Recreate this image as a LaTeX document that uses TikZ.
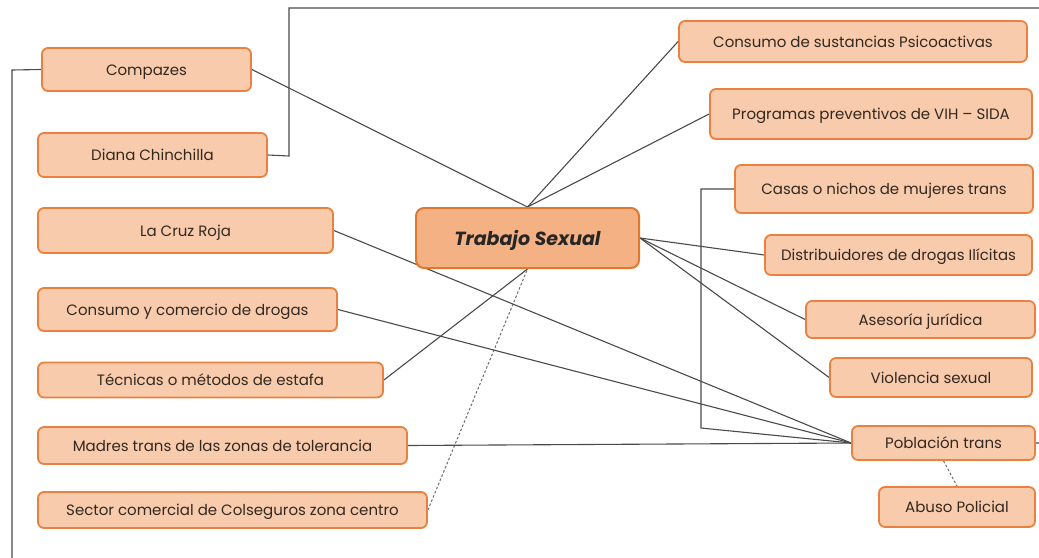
\documentclass[tikz,border=0pt]{standalone}
\usepackage{fontspec}
\setmainfont{Poppins}
\usetikzlibrary{backgrounds}
\begin{document}
\begin{tikzpicture}[x=1pt,y=-1pt,
  box/.style={draw=boxline, fill=boxfill, line width=1.8pt, rounded corners=6pt,
    inner sep=0pt, text height=11pt, text depth=0pt, text=txt, font=\fontsize{15}{17}\selectfont},
  hub/.style={draw=hubline, fill=hubfill, line width=2pt, rounded corners=8pt,
    inner sep=0pt, text height=14pt, text depth=0pt, text=black!85, font=\fontsize{19}{22}\selectfont\bfseries\itshape},
  link/.style={draw=conn, line width=1.1pt},
  dlink/.style={draw=conn!80, line width=1pt, dash pattern=on 2.5pt off 2pt}]
\definecolor{boxfill}{HTML}{F8CBAD}
\definecolor{boxline}{HTML}{E8823E}
\definecolor{hubfill}{HTML}{F4B183}
\definecolor{hubline}{HTML}{E0782F}
\definecolor{txt}{HTML}{33281F}
\definecolor{conn}{HTML}{4A4A4A}
\useasboundingbox (0,0) rectangle (1039,557);
\clip (0,0) rectangle (1039,557);

\coordinate (dknee) at (289,156);
\coordinate (dtop) at (289,8);
\coordinate (rtop) at (1060,8);
\coordinate (rpob) at (1060,443);
\coordinate (cknee) at (12,70);
\coordinate (cbot) at (12,580);
\coordinate (casknee) at (701,189);
\coordinate (casbot) at (701,428);

% nodes
\node[box, minimum width=209pt, minimum height=43pt] (comp) at (146.5,69.5) {Compazes};
\node[box, minimum width=229pt, minimum height=44pt] (diana) at (152.5,155) {Diana Chinchilla};
\node[box, minimum width=295pt, minimum height=45pt] (cruz) at (185.5,230.5) {La Cruz Roja};
\node[box, minimum width=299pt, minimum height=43pt] (ccd) at (187.5,309.5) {Consumo y comercio de drogas};
\node[box, minimum width=345pt, minimum height=35pt] (tec) at (210.5,380) {Técnicas o métodos de estafa};
\node[box, minimum width=369pt, minimum height=37pt] (madres) at (222.5,445.5) {Madres trans de las zonas de tolerancia};
\node[box, minimum width=389pt, minimum height=36pt] (sector) at (232.5,510) {Sector comercial de Colseguros zona centro};
\node[hub, minimum width=223pt, minimum height=60pt] (ts) at (527.5,238) {Trabajo Sexual};
\node[box, minimum width=348pt, minimum height=41pt] (csp) at (853,41.5) {Consumo de sustancias Psicoactivas};
\node[box, minimum width=322pt, minimum height=50pt] (prog) at (871,114) {Programas preventivos de VIH – SIDA};
\node[box, minimum width=298pt, minimum height=48pt] (casas) at (884,189) {Casas o nichos de mujeres trans};
\node[box, minimum width=267pt, minimum height=40pt] (dist) at (898.5,255) {Distribuidores de drogas Ilícitas};
\node[box, minimum width=229pt, minimum height=37pt] (ases) at (920.5,319.5) {Asesoría jurídica};
\node[box, minimum width=202pt, minimum height=39pt] (viol) at (931,377.5) {Violencia sexual};
\node[box, minimum width=183pt, minimum height=34pt] (pob) at (943.5,443) {Población trans};
\node[box, minimum width=156pt, minimum height=40pt] (abuso) at (957,507) {Abuso Policial};

\begin{pgfonlayer}{background}
\fill[white] (0,0) rectangle (1039,557);
% to Trabajo Sexual
\draw[link] (comp.east) -- (ts.north);
\draw[link] (csp.west) -- (ts.north);
\draw[link] (prog.west) -- (ts.north);
\draw[link] (tec.east) -- (ts.south);
\draw[dlink] (sector.east) -- (ts.south);
\draw[link] (ts.east) -- (dist.west);
\draw[link] (ts.east) -- (ases.west);
\draw[link] (ts.east) -- (viol.west);
% to Poblacion trans
\draw[link] (cruz.east) -- (pob.west);
\draw[link] (ccd.east) -- (pob.west);
\draw[link] (madres.east) -- (pob.west);
\draw[link] (casas.west) -- (casknee) -- (casbot) -- (pob.west);
\draw[dlink] (pob.south) -- (abuso.north);
% outer loops
\draw[link] (diana.east) -- (dknee) -- (dtop) -- (rtop) -- (rpob) -- (pob.east);
\draw[link] (comp.west) -- (cknee) -- (cbot);
\end{pgfonlayer}
\end{tikzpicture}
\end{document}
